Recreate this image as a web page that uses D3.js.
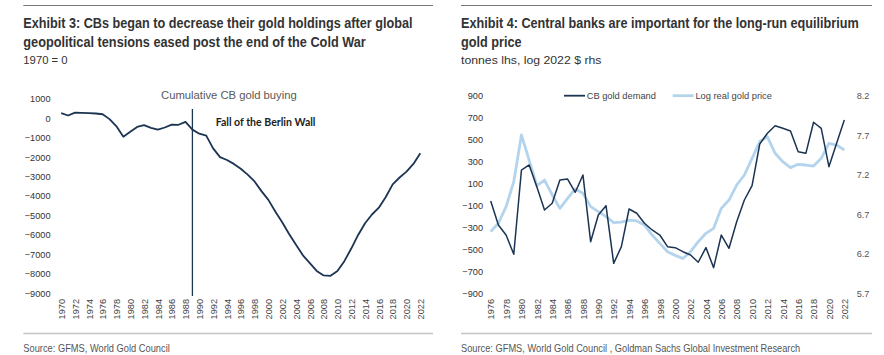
<!DOCTYPE html>
<html><head><meta charset="utf-8">
<script src="https://cdn.jsdelivr.net/npm/d3@7"></script>
<style>
html,body{margin:0;padding:0;background:#fff;}
svg{display:block;}
</style></head>
<body>
<svg id="c" width="884" height="355"></svg>
<script>
// ---------- Data ----------
const leftYears = d3.range(1970, 2023);
const cumulativeCB = [254,136,288,271,254,240,200,-50,-420,-950,
  -700,-450,-360,-500,-590,-480,-330,-340,-190,-590,
  -800,-900,-1550,-2000,-2150,-2350,-2600,-2900,-3250,-3750,
  -4200,-4800,-5350,-5950,-6500,-7050,-7450,-7850,-8080,-8100,
  -7850,-7350,-6700,-6000,-5400,-4950,-4600,-4050,-3400,-3050,
  -2750,-2350,-1800];
const leftYTicks = d3.range(-9000, 1001, 1000);
const leftXTicks = d3.range(1970, 2023, 2);
const eventYear = 1989;

const rightYears = d3.range(1976, 2023);
const cbDemand = [-59,-278,-369,-544,223,269,71,-141,-80,132,
  141,20,178,-430,-186,-102,-627,-475,-132,-171,
  -262,-323,-369,-475,-484,-521,-551,-617,-484,-666,
  -369,-490,-248,-50,80,460,558,627,603,578,
  390,375,658,603,253,466,679];
const logRealPrice = [6.48,6.586,6.796,7.112,7.703,7.386,7.061,7.133,6.944,6.775,
  6.902,7.02,6.965,6.796,6.733,6.67,6.594,6.6,6.627,6.615,
  6.564,6.437,6.332,6.226,6.18,6.14,6.226,6.353,6.459,6.522,
  6.775,6.88,7.07,7.197,7.408,7.62,7.68,7.471,7.365,7.29,
  7.332,7.323,7.31,7.408,7.598,7.576,7.513];
const rightYTicksL = d3.range(-900, 901, 200);
const rightYTicksR = [5.7, 6.2, 6.7, 7.2, 7.7, 8.2];
const rightXTicks = d3.range(1976, 2023, 2);

// ---------- Styles ----------
const DARK = "#1b3452", LIGHT = "#b3d4ec";
const TITLE_FONT = "'Liberation Sans Narrow','Arial Narrow','Liberation Sans',Arial,sans-serif";
const AX_FONT = "'Liberation Sans',Arial,sans-serif";

const svg = d3.select("#c");

// Text squeezed horizontally to a target width via a scale transform
function fitText(x, y, str, width, attrs) {
  const g = svg.append("g").attr("transform", `translate(${x},${y})`);
  const t = g.append("text").attr("x", 0).attr("y", 0).text(str);
  Object.entries(attrs).forEach(([k, v]) => t.attr(k, v));
  const w = t.node().getComputedTextLength();
  const s = w > 0 ? width / w : 1;
  g.attr("transform", `translate(${x},${y}) scale(${s},1)`);
  return t;
}

function header(x0, x1, lines, sub, subW, source, sourceW) {
  svg.append("line").attr("x1", x0).attr("x2", x1).attr("y1", 5.5).attr("y2", 5.5)
    .attr("stroke", "#7a7a7a").attr("stroke-width", 1);
  lines.forEach((l, i) => {
    fitText(x0, 28.3 + i * 18.4, l.t, l.w, {"font-family": TITLE_FONT, "font-weight": "bold",
      "font-size": 14, "fill": "#333"});
  });
  fitText(x0, 64.3, sub, subW, {"font-family": TITLE_FONT, "font-size": 11.5, "fill": "#333"});
  svg.append("line").attr("x1", x0).attr("x2", x1).attr("y1", 333.5).attr("y2", 333.5)
    .attr("stroke", "#c4c4c4").attr("stroke-width", 1.5);
  fitText(x0, 352.3, source, sourceW, {"font-family": TITLE_FONT, "font-size": 11, "fill": "#555"});
}

function styleAxis(g) {
  g.select(".domain").remove();
  g.selectAll("line").remove();
  g.selectAll("text").attr("font-family", AX_FONT).attr("font-size", 9.2).attr("fill", "#333");
}

// ---------- Left chart ----------
header(23.3, 433, [
  {t: "Exhibit 3: CBs began to decrease their gold holdings after global", w: 389.7},
  {t: "geopolitical tensions eased post the end of the Cold War", w: 342.7}
], "1970 = 0", 44.4, "Source: GFMS, World Gold Council", 146.7);

const xL = d3.scaleLinear().domain([1970, 2022]).range([61.2, 420.3]);
const yL = d3.scaleLinear().domain([-9000, 1000]).range([293.3, 98.7]);

svg.append("g").attr("transform", "translate(50.5,0)")
  .call(d3.axisLeft(yL).tickValues(leftYTicks).tickSize(0).tickPadding(0).tickFormat(d3.format("d")))
  .call(styleAxis);

svg.append("g").attr("transform", "translate(0,299)")
  .call(d3.axisBottom(xL).tickValues(leftXTicks).tickSize(0).tickPadding(0).tickFormat(d3.format("d")))
  .call(styleAxis)
  .call(g => g.selectAll("text").attr("transform", "rotate(-90)").attr("text-anchor", "end")
    .attr("x", 0).attr("y", 0).attr("dy", "0.35em").attr("dx", 0).attr("fill", "#444"));

svg.append("line").attr("x1", xL(eventYear)).attr("x2", xL(eventYear))
  .attr("y1", 109).attr("y2", 296).attr("stroke", DARK).attr("stroke-width", 1.3);

svg.append("path").datum(leftYears.map((y, i) => [y, cumulativeCB[i]]))
  .attr("fill", "none").attr("stroke", DARK).attr("stroke-width", 1.8)
  .attr("stroke-linejoin", "round")
  .attr("d", d3.line().x(d => xL(d[0])).y(d => yL(d[1])));

fitText(161, 99, "Cumulative CB gold buying", 136,
  {"font-family": AX_FONT, "font-size": 11.3, "fill": "#595959"});
fitText(215.7, 126, "Fall of the Berlin Wall", 100,
  {"font-family": "Lato,'Open Sans',sans-serif", "font-weight": "bold", "font-size": 11, "fill": "#1e1e1e"});

// ---------- Right chart ----------
header(461, 872, [
  {t: "Exhibit 4: Central banks are important for the long-run equilibrium", w: 398.3},
  {t: "gold price", w: 60.7}
], "tonnes lhs, log 2022 $ rhs", 140.7,
  "Source: GFMS, World Gold Council , Goldman Sachs Global Investment Research", 340);

const xR = d3.scaleLinear().domain([1976, 2022]).range([490.7, 844.3]);
const yRL = d3.scaleLinear().domain([-900, 900]).range([293.3, 95.7]);
const yRR = d3.scaleLinear().domain([5.7, 8.2]).range([293.3, 95.7]);

svg.append("g").attr("transform", "translate(483,0)")
  .call(d3.axisLeft(yRL).tickValues(rightYTicksL).tickSize(0).tickPadding(0).tickFormat(d3.format("d")))
  .call(styleAxis);
svg.append("g").attr("transform", "translate(856.7,0)")
  .call(d3.axisRight(yRR).tickValues(rightYTicksR).tickSize(0).tickPadding(0).tickFormat(d3.format(".1f")))
  .call(styleAxis)
  .call(g => g.selectAll("text").attr("fill", "#555"));
svg.append("g").attr("transform", "translate(0,299)")
  .call(d3.axisBottom(xR).tickValues(rightXTicks).tickSize(0).tickPadding(0).tickFormat(d3.format("d")))
  .call(styleAxis)
  .call(g => g.selectAll("text").attr("transform", "rotate(-90)").attr("text-anchor", "end")
    .attr("x", 0).attr("y", 0).attr("dy", "0.35em").attr("dx", 0).attr("fill", "#444"));

svg.append("path").datum(rightYears.map((y, i) => [y, logRealPrice[i]]))
  .attr("fill", "none").attr("stroke", LIGHT).attr("stroke-width", 2.8)
  .attr("stroke-linejoin", "round")
  .attr("d", d3.line().x(d => xR(d[0])).y(d => yRR(d[1])));
svg.append("path").datum(rightYears.map((y, i) => [y, cbDemand[i]]))
  .attr("fill", "none").attr("stroke", DARK).attr("stroke-width", 1.5)
  .attr("stroke-linejoin", "round")
  .attr("d", d3.line().x(d => xR(d[0])).y(d => yRL(d[1])));

// Legend
const legend = [
  {name: "CB gold demand", color: DARK, w: 1.8, x: 564},
  {name: "Log real gold price", color: LIGHT, w: 2.8, x: 672.7}
];
legend.forEach(l => {
  svg.append("line").attr("x1", l.x).attr("x2", l.x + 21).attr("y1", 95.7).attr("y2", 95.7)
    .attr("stroke", l.color).attr("stroke-width", l.w);
  svg.append("text").attr("x", l.x + 22.7).attr("y", 95.7).attr("dy", "0.35em")
    .attr("font-family", AX_FONT).attr("font-size", 9.3).attr("fill", "#444").text(l.name);
});
</script>
</body></html>
